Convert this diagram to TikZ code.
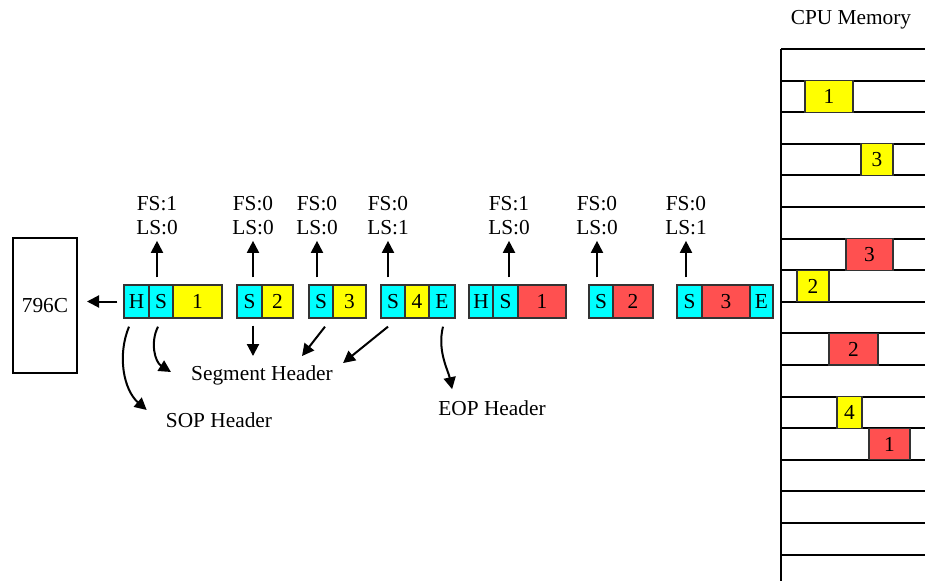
\documentclass[tikz,border=0pt]{standalone}
\usepackage{fontspec}
\setmainfont{Liberation Serif}
\usepackage{tikz}
\usetikzlibrary{arrows.meta}
\definecolor{pcyan}{RGB}{0,255,255}
\definecolor{pyellow}{RGB}{255,255,0}
\definecolor{pred}{RGB}{255,80,80}
\definecolor{pedge}{RGB}{51,51,51}

\tikzset{
	cell/.style={draw=pedge, line width=1pt, inner sep=0pt, minimum height=24.75pt, minimum width=#1*0.75pt},
	hdr/.style={cell=#1, fill=pcyan},
	ydat/.style={cell=#1, fill=pyellow},
	rdat/.style={cell=#1, fill=pred},
	mblk/.style={minimum height=23.7pt},
	arr/.style={line width=1.5pt, -{Triangle[width=9pt,length=9pt]}},
	lbl/.style={inner sep=0pt, align=center},
}

\begin{document}
\begin{tikzpicture}[x=0.75pt,y=0.75pt,yscale=-1,xscale=1, font=\fontsize{16}{18}\selectfont]
		\useasboundingbox (0,0) rectangle (925,581);
		
		%Shape: Rectangle (796C)
		\node (chip) at (45,305.5) [draw, line width=1.5pt, minimum width=48pt, minimum height=101.25pt, inner sep=0pt] {796C};
		
		% packet one
		\node (H1) at (136.5,301.5) [hdr=25] {H};
		\node (S1) at (161,301.5) [hdr=24] {S};
		\node (D1) at (197.5,301.5) [ydat=49] {1};
		\node (S2) at (249.5,301.5) [hdr=25] {S};
		\node (D2) at (277.5,301.5) [ydat=31] {2};
		\node (S3) at (321,301.5) [hdr=24] {S};
		\node (D3) at (349.5,301.5) [ydat=33] {3};
		\node (S4) at (393,301.5) [hdr=24] {S};
		\node (D4) at (417,301.5) [ydat=24] {4};
		\node (E1) at (442,301.5) [hdr=26] {E};
		% packet two
		\node (H2) at (481,301.5) [hdr=24] {H};
		\node (S5) at (505.5,301.5) [hdr=25] {S};
		\node (R1) at (542,301.5) [rdat=48] {1};
		\node (S6) at (601,301.5) [hdr=24] {S};
		\node (R2) at (633,301.5) [rdat=40] {2};
		\node (S7) at (689.5,301.5) [hdr=25] {S};
		\node (R3) at (726,301.5) [rdat=48] {3};
		\node (E2) at (761.5,301.5) [hdr=23] {E};
		
		% Text Node (flags)
		\node (f1) at (157,216) [lbl] {FS:1\\LS:0};
		\node (f2) at (253,216) [lbl] {FS:0\\LS:0};
		\node (f3) at (317,216) [lbl] {FS:0\\LS:0};
		\node (f4) at (388,216) [lbl] {FS:0\\LS:1};
		\node (f5) at (509,216) [lbl] {FS:1\\LS:0};
		\node (f6) at (597,216) [lbl] {FS:0\\LS:0};
		\node (f7) at (686,216) [lbl] {FS:0\\LS:1};
		
		\foreach \s/\f in {S1/f1,S2/f2,S3/f3,S4/f4,S5/f5,S6/f6,S7/f7}
			\draw [arr, shorten <=5.25pt, shorten >=4pt] (\f.south |- \s.north) -- (\f.south) ;
		
		% Text Node
		\node (seg) at (262,375) [lbl] {Segment Header};
		\node (sop) at (219,420) [lbl] {SOP Header};
		\node (eop) at (492,408) [lbl] {EOP Header};
		
		\draw [arr, shorten <=4.5pt, shorten >=6.75pt] (H1.west) -- (chip.east |- H1.west) ;
		
		%Straight Lines
		\draw [arr] ([shift={(3.5,7)}]S2.south) -- ([shift={(-9,-9)}]seg.north) ;
		\draw [arr] ([shift={(4,8)}]S3.south) -- ([shift={(40,-9)}]seg.north) ;
		\draw [arr] ([shift={(-5,8)}]S4.south) -- ([shift={(10,-2)}]seg.north east) ;
		%Curve Lines
		\draw [arr] ([shift={(-7.5,8)}]H1.south) .. controls +(-12,29) and +(-23,-20) .. ([shift={(-19,-10)}]sop.west) ;
		\draw [arr] ([shift={(-3,8)}]S1.south) .. controls +(-8,16) and +(-16,-10) .. ([shift={(-20,-3)}]seg.west) ;
		\draw [arr] ([shift={(1,8)}]E1.south) .. controls +(-6,24) and +(-4,-19) .. ([shift={(14,-11)}]eop.north west) ;
		
		% CPU memory
		\node (mem) at (851,20) [lbl] {CPU Memory};
		\draw [line width=1.5pt] (781,49) -- (781,581) ;
		\foreach \k in {0,...,16}
			\draw [line width=1.5pt] (781,49+31.6*\k) -- (925,49+31.6*\k) ;
		\node (my1) at (829,96.4) [ydat=48, mblk] {1};
		\node (my3) at (877,159.6) [ydat=32, mblk] {3};
		\node (mr3) at (869.5,254.4) [rdat=47, mblk] {3};
		\node (my2) at (813,286) [ydat=32, mblk] {2};
		\node (mr2) at (853.5,349.2) [rdat=49, mblk] {2};
		\node (my4) at (849.5,412.4) [ydat=25, mblk] {4};
		\node (mr1) at (889.5,444) [rdat=41, mblk] {1};
	\end{tikzpicture}
\end{document}
